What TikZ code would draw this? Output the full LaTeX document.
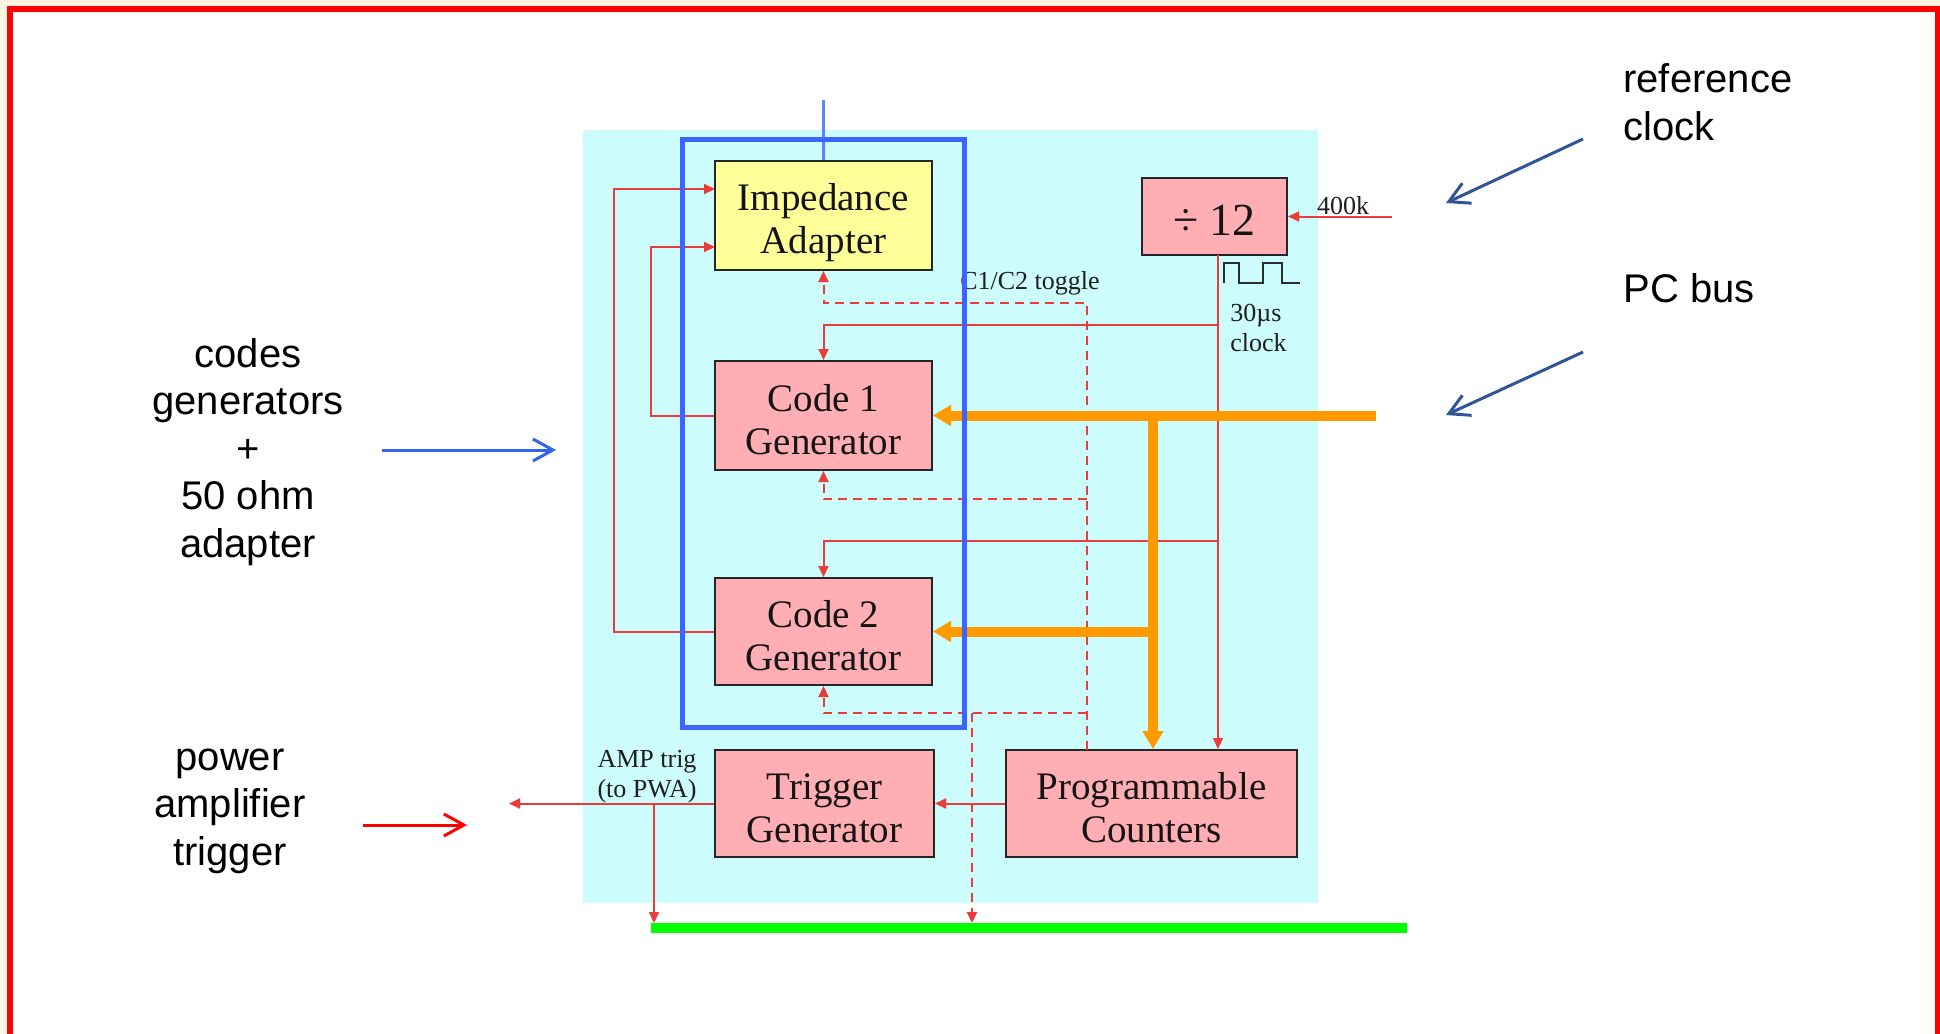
\documentclass[tikz,border=0pt]{standalone}
\usepackage{fontspec}
\setmainfont{Liberation Serif}
\newfontfamily\arialf{Liberation Sans}
\usetikzlibrary{arrows.meta,calc}
\newcommand\liftline[1]{\rule{0pt}{#1}}
\definecolor{bgcyan}{RGB}{204,252,252}
\definecolor{impyellow}{RGB}{255,255,153}
\definecolor{boxpink}{RGB}{255,175,180}
\definecolor{frameblue}{RGB}{60,100,255}
\definecolor{topblue}{RGB}{95,130,255}
\definecolor{leftblue}{RGB}{50,100,240}
\definecolor{busorange}{RGB}{255,153,0}
\definecolor{busgreen}{RGB}{0,255,0}
\definecolor{sigred}{RGB}{235,60,60}
\definecolor{navyarrow}{RGB}{47,85,151}
\definecolor{outerbeige}{RGB}{252,243,225}
\definecolor{waveink}{RGB}{40,45,45}
\begin{document}
\begin{tikzpicture}[x=0.5pt,y=-0.5pt,
  blk/.style={draw=black!85, line width=1pt, fill=boxpink, inner sep=0pt,
    align=center, text=black!92, font=\fontsize{19.5}{21.5}\selectfont},
  sig/.style={draw=sigred, line width=1pt},
  sigarr/.style={sig, -{Triangle[length=5.5pt,width=5pt]}},
  dsigarr/.style={sigarr, dash pattern=on 4.5pt off 3pt},
  busarr/.style={draw=busorange, line width=5pt, -{Triangle[length=9pt,width=10pt]}},
  smalltxt/.style={font=\fontsize{13}{15}\selectfont, text=black!88, inner sep=0pt},
  lab/.style={font=\arialf\fontsize{20}{23.75}\selectfont, align=center, inner sep=0pt},
  barb/.style={-{Straight Barb[length=10pt,width=11pt]}, line width=1.5pt}
]
\useasboundingbox (0,0) rectangle (1940,1034);
% outer frame
\fill[outerbeige] (0,0) rectangle (1940,1034);
\fill[white] (10,9) rectangle (1938,1034);
\draw[red, line width=3pt] (10,1040) -- (10,9) -- (1937.5,9) -- (1937.5,1040);
% cyan background
\fill[bgcyan] (583,130) rectangle (1318,903);

% boxes
\node[blk, fill=impyellow, minimum width=108.5pt, minimum height=54.5pt] (imp) at (823.5,215.5) {\liftline{20.3pt}Impedance\\Adapter};
\node[blk, minimum width=72.5pt, minimum height=38.5pt, font=\fontsize{23}{26}\selectfont] (div) at (1214.5,216.5) {\liftline{18.5pt}÷ 12};
\node[blk, minimum width=108.5pt, minimum height=54.5pt] (c1) at (823.5,415.5) {\liftline{17.3pt}Code 1\\Generator};
\node[blk, minimum width=108.5pt, minimum height=53.5pt] (c2) at (823.5,631.5) {\liftline{17.3pt}Code 2\\Generator};
\node[blk, minimum width=109.5pt, minimum height=53.5pt] (trig) at (824.5,803.5) {\liftline{17.3pt}Trigger\\Generator};
\node[blk, minimum width=145.5pt, minimum height=53.5pt] (pc) at (1151.5,803.5) {\liftline{17.3pt}Programmable\\Counters};

% blue top line
\coordinate (btop) at (823.5,100);
\draw[topblue, line width=1.5pt] (btop) -- (imp.north);

% clock input
\coordinate (clkin) at (1392,216.5);
\draw[sigarr] (clkin) -- (div.east);
\node[smalltxt] (l400) at (1343,206) {400k};

% square wave
\draw[waveink, line width=1pt] (1224,283) -- (1224,263) -- (1239,263) -- (1239,283)
  -- (1263,283) -- (1263,263) -- (1282,263) -- (1282,283) -- (1300,283);
\node[smalltxt, anchor=west, align=left] (l30) at (1230,328) {30µs\\clock};

% clock distribution
\coordinate (clk) at (1218,255);
\coordinate (j1) at (1218,325);
\coordinate (j2) at (1218,541);
\draw[sigarr] (clk) -- (clk |- pc.north);
\draw[sigarr] (j1) -| (c1.north);
\draw[sigarr] (j2) -| (c2.north);

% feedback to impedance adapter
\coordinate (impin1) at (715,189);
\coordinate (impin2) at (715,247);
\draw[sigarr] (c1.west) -- ++(-63,0) |- (impin2);
\draw[sigarr] (c2.west) -- ++(-100,0) |- (impin1);

% C1/C2 toggle
\coordinate (tg) at (1087,750);
\coordinate (tg1) at (1087,499);
\coordinate (tg2) at (1087,713);
\draw[dsigarr] (tg) -- ++(0,-447) -| (imp.south);
\draw[dsigarr] (tg1) -| (c1.south);
\draw[dsigarr] (tg2) -| (c2.south);
\node[smalltxt] (ltog) at (1030,283) {C1/C2 toggle};

% PC bus (orange)
\coordinate (pcbus) at (1376,415.5);
\coordinate (ob) at (1153,415.5);
\draw[busarr] (pcbus) -- (c1.east);
\draw[busarr] (ob) -- (ob |- pc.north);
\draw[busarr] (ob |- c2.east) -- (c2.east);

% trigger
\coordinate (amp) at (509,803.5);
\coordinate (tb) at (654,803.5);
\coordinate (dgr) at (972,713);
\draw[sigarr] (pc.west) -- (trig.east);
\draw[sigarr] (trig.west) -- (amp);
\node[smalltxt, align=center] (lamp) at (647,777) {AMP trig\\(to PWA)};

% green line
\coordinate (gl) at (651,928);
\coordinate (gr) at (1407,928);
\draw[busgreen, line width=5pt] (gl) -- (gr);
\draw[sigarr] (tb) -- (tb |- 0,923);
\draw[dsigarr] (dgr) -- (dgr |- 0,923);

% blue frame on top
\draw[frameblue, line width=2.5pt] (682,139) rectangle (964,727);

% outer labels
\node[lab] (codes) at (248,452) {codes\\generators\\+\\50 ohm\\adapter};
\coordinate (ba1) at (382,450);
\coordinate (ba2) at (556,450);
\draw[barb, leftblue] (ba1) -- (ba2);

\node[lab] (pwr) at (230,811) {power\\amplifier\\trigger};
\coordinate (ra1) at (363,825);
\coordinate (ra2) at (467,825);
\draw[barb, red] (ra1) -- (ra2);

\node[lab, anchor=west, align=left] (refclk) at (1623,102) {reference\\clock};
\coordinate (na1) at (1583,139);
\coordinate (na2) at (1446,203);
\draw[barb, navyarrow] (na1) -- (na2);

\node[lab, anchor=west] (pcb) at (1623,288) {PC bus};
\coordinate (nb1) at (1583,352);
\coordinate (nb2) at (1446,415);
\draw[barb, navyarrow] (nb1) -- (nb2);
\end{tikzpicture}
\end{document}
